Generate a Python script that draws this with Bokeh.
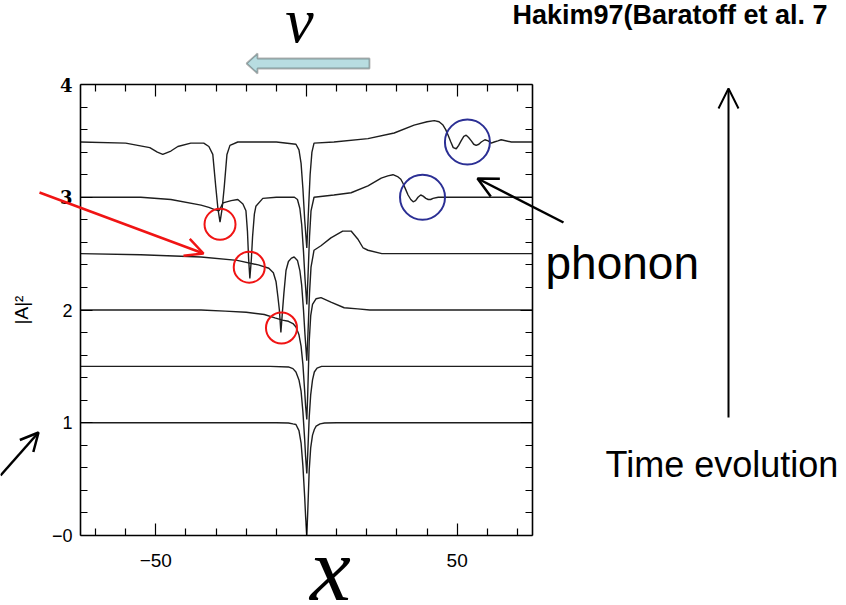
from bokeh.plotting import figure
from bokeh.models import (Range1d, LinearAxis, FixedTicker, Label, Arrow,
                          OpenHead, PolyAnnotation)
from bokeh.embed import file_html
from bokeh.resources import INLINE

# |A|^2 profiles at six successive times, each lifted by 0.5
x_t0 = [-75, -10, -6, -4.5, -3.5, -2.5, -1.8, -1.2, -0.6, -0.3, 0.1, 0.4, 0.9, 1.4, 2.0, 2.6, 3.2, 4.5, 6, 10, 75]
y_t0 = [1.0, 1.0, 0.998, 0.99, 0.985, 0.93, 0.82, 0.62, 0.34, 0.17, 0.0, 0.2, 0.58, 0.78, 0.89, 0.94, 0.97, 0.99, 0.998, 1.0, 1.0]

x_t1 = [-75, -12, -6, -4.5, -3.5, -2.5, -1.8, -1.2, -0.6, -0.3, 0.1, 0.4, 0.9, 1.4, 2.0, 2.6, 3.5, 5, 8, 12, 75]
y_t1 = [1.5, 1.5, 1.495, 1.48, 1.45, 1.38, 1.28, 1.10, 0.85, 0.70, 0.55, 0.72, 1.05, 1.25, 1.38, 1.45, 1.485, 1.5, 1.5, 1.5, 1.5]

x_t2 = [-75, -35, -27, -20, -14, -10.5, -8, -6, -4.5, -3.5, -2.5, -1.8, -1.2, -0.6, -0.3, 0.1, 0.4, 0.9, 1.4, 2.0, 3.2, 4.8, 8.1, 12.5, 17, 21, 75]
y_t2 = [2.0, 2.0, 1.99, 1.98, 1.96, 1.93, 1.91, 1.90, 1.88, 1.85, 1.78, 1.68, 1.52, 1.28, 1.15, 1.03, 1.25, 1.72, 1.95, 2.05, 2.10, 2.11, 2.07, 2.02, 2.01, 2.0, 2.0]

x_t3 = [-75, -55, -35, -23, -16, -12.5, -11, -10.1, -9.5, -9.0, -8.5, -8.0, -7.5, -6.8, -6, -5, -4.1, -3, -2.2, -1.6, -1.0, -0.5, 0.1, 0.5, 1.0, 1.5, 2.5, 4.8, 8.1, 12, 14.8, 17, 18.8, 20.4, 25, 75]
y_t3 = [2.5, 2.49, 2.47, 2.44, 2.40, 2.37, 2.33, 2.25, 2.12, 2.00, 1.80, 1.98, 2.15, 2.35, 2.43, 2.46, 2.47, 2.44, 2.35, 2.22, 2.00, 1.78, 1.55, 1.80, 2.15, 2.38, 2.53, 2.57, 2.64, 2.70, 2.70, 2.63, 2.55, 2.53, 2.50, 2.50]

x_t4 = [-75, -55, -45, -35, -32.4, -30.5, -29, -27.7, -25, -22.8, -21.1, -20.1, -19.6, -19.2, -18.8, -18.3, -17.9, -17.3, -16.8, -14.5, -10, -4, -3, -2.2, -1.6, -1.0, -0.5, 0.1, 0.5, 1.0, 1.5, 2.5, 9.1, 14.8, 20.4, 24.8, 27.0, 28.7, 30.4, 31.3, 32.1, 32.9, 33.7, 34.6, 35.4, 36.2, 37.0, 37.9, 38.7, 39.6, 40.4, 41.2, 42.0, 43.7, 75]
y_t4 = [3.0, 3.0, 2.98, 2.93, 2.91, 2.89, 2.88, 2.95, 2.97, 2.98, 2.94, 2.88, 2.70, 2.45, 2.28, 2.45, 2.65, 2.85, 2.92, 2.99, 3.0, 3.0, 2.98, 2.90, 2.76, 2.52, 2.28, 2.05, 2.30, 2.65, 2.88, 3.0, 3.02, 3.04, 3.10, 3.17, 3.19, 3.20, 3.18, 3.16, 3.12, 3.07, 3.02, 2.98, 2.96, 2.97, 3.00, 3.02, 3.01, 2.99, 2.98, 2.98, 2.99, 3.0, 3.0]

x_t5 = [-75, -60, -52, -49.5, -47.7, -45, -42.7, -38.4, -34.1, -32.4, -31.1, -30.1, -29.4, -28.7, -28.0, -27.3, -26.4, -25.4, -22.8, -10, -3.5, -2.5, -1.8, -1.2, -0.6, 0.1, 0.6, 1.2, 1.8, 2.5, 9.1, 20.4, 29.1, 35.7, 40.0, 42.4, 44.0, 45.3, 46.2, 47.0, 47.9, 48.7, 49.7, 50.5, 51.3, 52.2, 53.0, 53.8, 54.7, 55.5, 56.3, 57.2, 58.0, 59.2, 60.3, 61.3, 62.3, 63.5, 64.6, 68, 75]
y_t5 = [3.49, 3.48, 3.44, 3.40, 3.38, 3.41, 3.45, 3.48, 3.48, 3.45, 3.38, 3.09, 2.90, 2.78, 2.90, 3.09, 3.38, 3.46, 3.49, 3.49, 3.47, 3.42, 3.30, 3.08, 2.80, 2.55, 2.85, 3.20, 3.40, 3.48, 3.49, 3.52, 3.57, 3.64, 3.67, 3.68, 3.67, 3.64, 3.60, 3.55, 3.49, 3.44, 3.43, 3.46, 3.50, 3.54, 3.55, 3.53, 3.50, 3.47, 3.46, 3.47, 3.49, 3.51, 3.50, 3.48, 3.49, 3.50, 3.51, 3.49, 3.49]

# Marked features: emitted solitons (red) and phonon ripples (blue)
soliton_x = [-28.7, -19.0, -8.3]
soliton_y = [2.76, 2.38, 1.84]
phonon_x = [38.5, 53.4]
phonon_y = [3.00, 3.49]

# Axis ticks
x_major = [-50, 0, 50]
x_minor = [-70, -60, -40, -30, -20, -10, 10, 20, 30, 40, 60, 70]
y_major = [0, 1, 2, 3, 4]
y_minor = [0.2, 0.4, 0.6, 0.8, 1.2, 1.4, 1.6, 1.8, 2.2, 2.4, 2.6, 2.8, 3.2, 3.4, 3.6, 3.8]

X_LO, X_HI = -75, 75
Y_LO, Y_HI = 0, 4

# The plotting frame spans the whole canvas so that the slide annotations
# around the graph can be drawn; the graph box is built from four axes
# pinned at the data limits.
PX_PER_X = 452 / (X_HI - X_LO)
PX_PER_Y = 451 / (Y_HI - Y_LO)
x_range = Range1d(X_LO - 80 / PX_PER_X, X_HI + 314 / PX_PER_X)
y_range = Range1d(Y_LO - 70 / PX_PER_Y, Y_HI + 84 / PX_PER_Y)

p = figure(width=846, height=605, frame_width=846, frame_height=605,
           x_range=x_range, y_range=y_range,
           output_backend="svg", toolbar_location=None,
           min_border_left=0, min_border_right=0,
           min_border_top=0, min_border_bottom=0)
p.grid.visible = False
p.outline_line_color = None
p.background_fill_color = "white"
p.border_fill_color = "white"

x_ticker = FixedTicker(ticks=x_major, minor_ticks=x_minor)
y_ticker = FixedTicker(ticks=y_major, minor_ticks=y_minor)


def style_axis(ax):
    ax.axis_line_color = "black"
    ax.axis_line_width = 1.6
    ax.major_tick_in = 12
    ax.major_tick_out = 0
    ax.minor_tick_in = 7
    ax.minor_tick_out = 0
    ax.major_tick_line_width = 1.2
    ax.minor_tick_line_width = 1.2
    ax.major_tick_line_color = "black"
    ax.minor_tick_line_color = "black"


xb = p.xaxis[0]
xb.ticker = x_ticker
xb.fixed_location = Y_LO
xb.bounds = (X_LO, X_HI)
style_axis(xb)
xb.major_label_overrides = {-50: "\u221250", 0: "", 50: "50"}
xb.major_label_text_font = "Liberation Sans"
xb.major_label_text_font_size = "19px"
xb.major_label_text_color = "black"
xb.major_label_standoff = 18

yl = p.yaxis[0]
yl.ticker = y_ticker
yl.fixed_location = X_LO
yl.bounds = (Y_LO, Y_HI)
style_axis(yl)
yl.major_label_overrides = {0: "\u22120", 1: "1", 2: "2", 3: "", 4: ""}
yl.major_label_text_font = "Liberation Sans"
yl.major_label_text_font_size = "18px"
yl.major_label_text_color = "black"
yl.major_label_standoff = 8
yl.axis_label = "|A|\u00b2"
yl.axis_label_text_font = "Liberation Sans"
yl.axis_label_text_font_style = "normal"
yl.axis_label_text_font_size = "19px"
yl.axis_label_text_color = "black"
yl.axis_label_standoff = 17

top_ax = LinearAxis(ticker=x_ticker, fixed_location=Y_HI, bounds=(X_LO, X_HI),
                    major_label_overrides={t: "" for t in x_major})
right_ax = LinearAxis(ticker=y_ticker, fixed_location=X_HI, bounds=(Y_LO, Y_HI),
                      major_label_overrides={t: "" for t in y_major})
style_axis(top_ax)
style_axis(right_ax)
p.add_layout(top_ax, "above")
p.add_layout(right_ax, "right")

# bold serif labels for the two upper ticks
for v in (3, 4):
    p.add_layout(Label(x=72, y=v, x_units="canvas", y_units="data", text=str(v),
                       text_align="right", text_baseline="middle",
                       text_font="DejaVu Serif", text_font_style="bold",
                       text_font_size="18px", text_color="black"))

# the six time slices
for xs, ys in [(x_t0, y_t0), (x_t1, y_t1), (x_t2, y_t2),
               (x_t3, y_t3), (x_t4, y_t4), (x_t5, y_t5)]:
    p.line(xs, ys, line_color="#1e1e1e", line_width=1.4)

p.scatter(soliton_x, soliton_y, marker="circle", size=31, fill_color=None,
          line_color="#f01414", line_width=2)
p.scatter(phonon_x, phonon_y, marker="circle", size=45, fill_color=None,
          line_color="#2b2f94", line_width=2)

# flow direction arrow
p.add_layout(PolyAnnotation(xs=[246, 257, 257, 369, 369, 257, 257],
                            ys=[63, 53, 58, 58, 68, 68, 73],
                            xs_units="canvas", ys_units="canvas",
                            fill_color="#b8dde1", fill_alpha=1.0,
                            line_color="black", line_width=1.8))

# pointer arrows
arrows = [
    ((39, 192), (203, 253), "#f01414", 2.5, 18),
    ((563, 222), (477, 178), "black", 2.5, 20),
    ((728, 417), (728, 88), "black", 2.0, 20),
    ((0, 475), (38, 432), "black", 2.5, 18),
]
for (xs0, ys0), (xs1, ys1), col, lw, hs in arrows:
    p.add_layout(Arrow(x_start=xs0, y_start=ys0, x_end=xs1, y_end=ys1,
                       start_units="canvas", end_units="canvas",
                       line_color=col, line_width=lw,
                       end=OpenHead(size=hs, line_color=col, line_width=lw)))

# slide texts (canvas anchor of each label)
texts = [
    ("Hakim97(Baratoff et al. 7", 512, 14, "Liberation Sans", "bold", "27px", "left"),
    ("phonon", 545, 262, "Liberation Sans", "normal", "46px", "left"),
    ("Time evolution", 605, 464, "Liberation Sans", "normal", "36px", "left"),
    ("v", 299, 20, "Liberation Serif", "italic", "64px", "center"),
    ("x", 330, 568, "Liberation Serif", "italic", "92px", "center"),
]
for t, tx, ty, fnt, sty, size, align in texts:
    p.add_layout(Label(x=tx, y=ty, x_units="canvas", y_units="canvas", text=t,
                       text_font=fnt, text_font_style=sty, text_font_size=size,
                       text_align=align, text_baseline="alphabetic",
                       text_color="black"))

open("out.html", "w").write(file_html(p, INLINE))
